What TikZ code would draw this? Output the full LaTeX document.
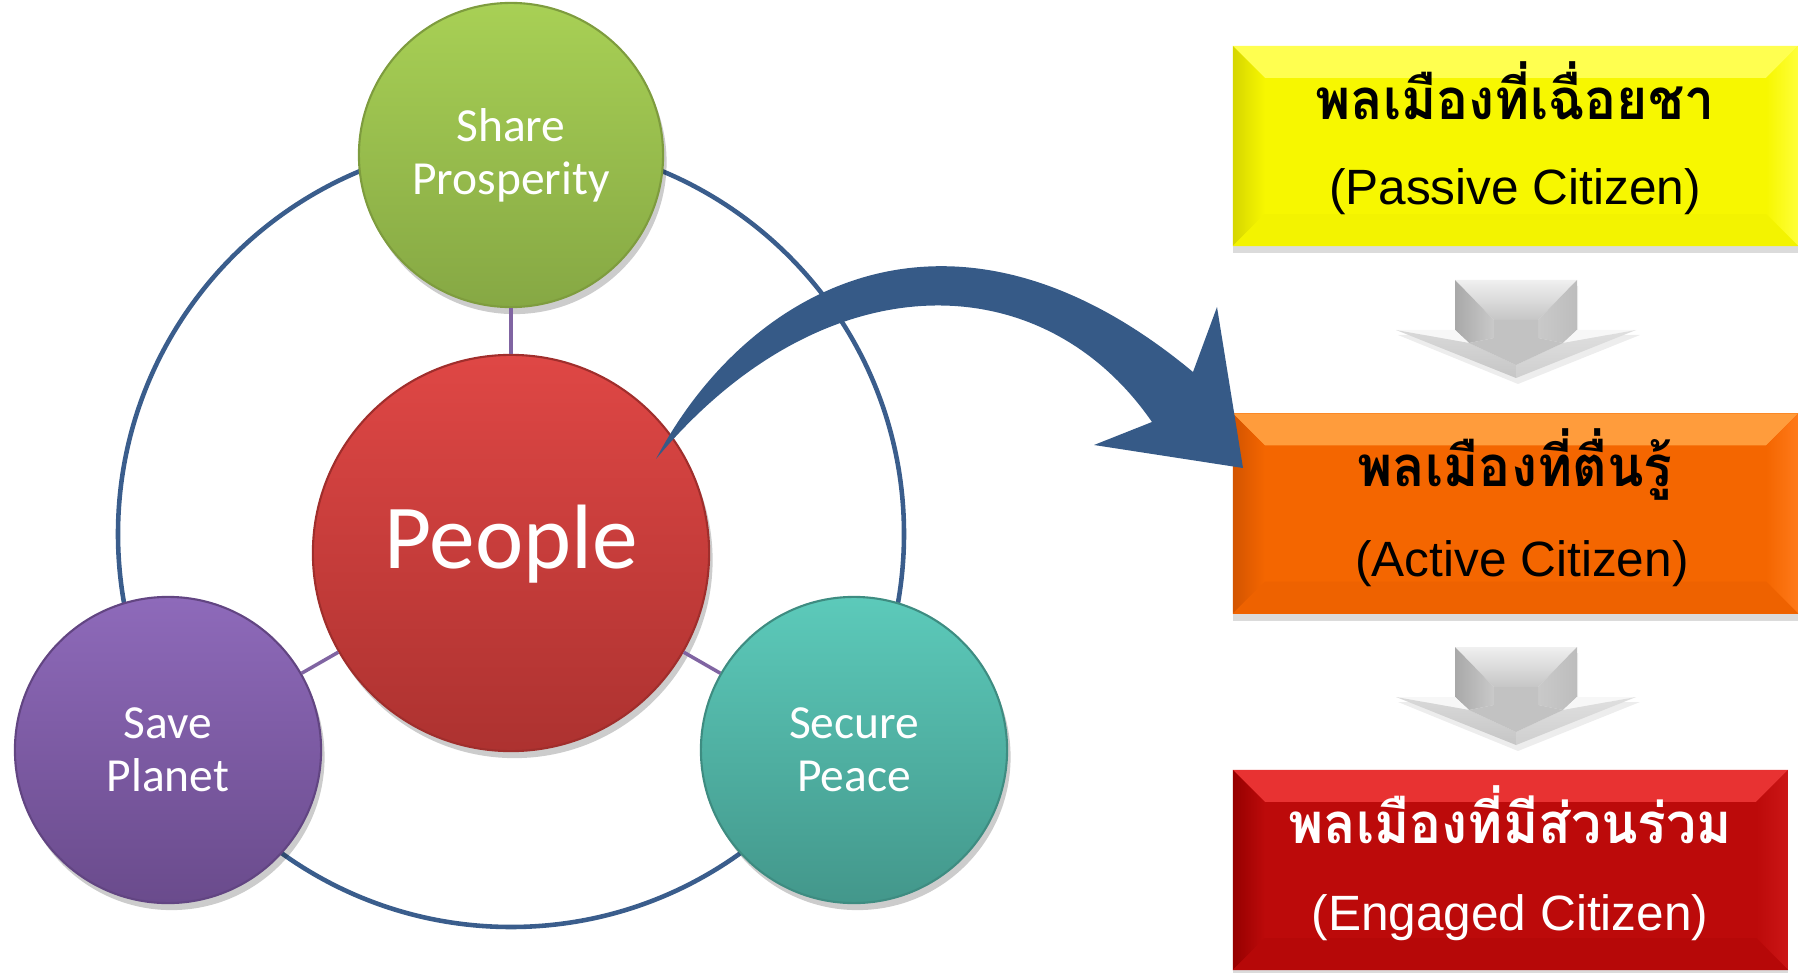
\documentclass[tikz,border=0pt]{standalone}
\usepackage{fontspec}
\setmainfont{Liberation Sans}
\newfontfamily\carl{Carlito}
\newfontfamily\thaifont[Script=Thai, FakeStretch=0.95]{Loma}
\usetikzlibrary{shadows}
\definecolor{ringblue}{HTML}{3A5D8C}
\definecolor{arrowblue}{HTML}{365A87}
\definecolor{linkpurple}{HTML}{8064A2}
\definecolor{greentop}{HTML}{A8D055}
\definecolor{greenbot}{HTML}{86A844}
\definecolor{greenedge}{HTML}{7E9C3E}
\definecolor{redtop}{HTML}{DF4745}
\definecolor{redbot}{HTML}{AD3230}
\definecolor{rededge}{HTML}{A02E2C}
\definecolor{purptop}{HTML}{8E6ABA}
\definecolor{purpbot}{HTML}{6A4B8C}
\definecolor{purpedge}{HTML}{624582}
\definecolor{tealtop}{HTML}{5CCABA}
\definecolor{tealbot}{HTML}{43978B}
\definecolor{tealedge}{HTML}{3E8C81}
\definecolor{yelmain}{HTML}{F7F700}
\definecolor{yeltop}{HTML}{FFFF50}
\definecolor{yelleft}{HTML}{D6D600}
\definecolor{yelright}{HTML}{FFFF3A}
\definecolor{yelbot}{HTML}{F3F300}
\definecolor{ormain}{HTML}{F46600}
\definecolor{ortop}{HTML}{FF9C3C}
\definecolor{orleft}{HTML}{D35400}
\definecolor{orright}{HTML}{FF7A1A}
\definecolor{orbot}{HTML}{EE6200}
\definecolor{rdmain}{HTML}{BC0A0A}
\definecolor{rdtop}{HTML}{E83232}
\definecolor{rdleft}{HTML}{960000}
\definecolor{rdright}{HTML}{CC1616}
\definecolor{rdbot}{HTML}{B60808}
\tikzset{
  ring/.style={draw=ringblue, line width=1.3pt},
  link/.style={draw=linkpurple, line width=1pt},
  ball/.style n args={3}{circle, inner sep=0pt, top color=#1, bottom color=#2, draw=#3, line width=0.6pt,
     text=white, align=center, font=\carl\fontsize{13.5}{15}\selectfont,
     drop shadow={shadow xshift=1pt, shadow yshift=-2pt, opacity=0.2, fill=black}},
  pbox/.style n args={5}{rectangle, inner sep=0pt, fill=#1, minimum height=2cm,
     drop shadow={shadow xshift=0pt, shadow yshift=-2pt, opacity=0.14, fill=black},
     path picture={
       \coordinate (nw) at (path picture bounding box.north west);
       \coordinate (ne) at (path picture bounding box.north east);
       \coordinate (sw) at (path picture bounding box.south west);
       \coordinate (se) at (path picture bounding box.south east);
       \fill[#2] (nw) -- (ne) -- ([shift={(-0.32cm,-0.32cm)}]ne) -- ([shift={(0.32cm,-0.32cm)}]nw) -- cycle;
       \shade[left color=#3, right color=#1] (nw) -- ([shift={(0.32cm,-0.32cm)}]nw) -- ([shift={(0.32cm,0.32cm)}]sw) -- (sw) -- cycle;
       \shade[left color=#1, right color=#4] (ne) -- (se) -- ([shift={(-0.32cm,0.32cm)}]se) -- ([shift={(-0.32cm,-0.32cm)}]ne) -- cycle;
       \fill[#5] (sw) -- ([shift={(0.32cm,0.32cm)}]sw) -- ([shift={(-0.32cm,0.32cm)}]se) -- (se) -- cycle;
     }},
  thaitxt/.style={anchor=base, font=\thaifont\bfseries\fontsize{16}{20}\selectfont},
  engtxt/.style={anchor=base, font=\fontsize{14.1}{17}\selectfont},
  downarrow/.pic={
    \fill[black, opacity=0.07] (-58,6) -- (62,6) -- (62,55) -- (124,55) -- (2,104) -- (-118,55) -- (-58,55) -- cycle;
    \shade[top color=gray!12, bottom color=gray!45] (-61,0) -- (61,0) -- (22,40) -- (-22,40) -- cycle;
    \shade[left color=gray!68, right color=gray!42] (-61,0) -- (-22,40) -- (-22,58) -- (-47,63) -- (-61,50) -- cycle;
    \shade[left color=gray!42, right color=gray!52] (61,0) -- (61,50) -- (47,63) -- (22,58) -- (22,40) -- cycle;
    \fill[gray!6] (-120,50) -- (-61,50) -- (-47,63) -- cycle;
    \fill[gray!6] (120,50) -- (61,50) -- (47,63) -- cycle;
    \shade[top color=gray!30, bottom color=gray!45] (-120,50) -- (-47,63) -- (0,85) -- (0,98) -- cycle;
    \shade[top color=gray!25, bottom color=gray!38] (120,50) -- (47,63) -- (0,85) -- (0,98) -- cycle;
    \fill[gray!48] (-22,40) -- (22,40) -- (22,58) -- (47,63) -- (0,85) -- (-47,63) -- (-22,58) -- cycle;
  }
}
\begin{document}
\begin{tikzpicture}[x=0.01cm, y=-0.01cm]
\useasboundingbox (0,0) rectangle (1805,973);
% outer ring
\draw[ring] (511,534) circle[radius=393];
% circles
\node[ball={redtop}{redbot}{rededge}, minimum size=3.96cm, text depth=9.5pt, font=\carl\fontsize{26}{30}\selectfont] (people) at (511,553) {People};
\node[ball={greentop}{greenbot}{greenedge}, minimum size=3.04cm] (share) at (511,155) {Share\\Prosperity};
\node[ball={purptop}{purpbot}{purpedge}, minimum size=3.06cm] (planet) at (168,750) {Save\\Planet};
\node[ball={tealtop}{tealbot}{tealedge}, minimum size=3.06cm] (peace) at (854,750) {Secure\\Peace};
% links
\draw[link] (people) -- (share);
\draw[link] (people) -- (planet);
\draw[link] (people) -- (peace);
% boxes
\node[pbox={yelmain}{yeltop}{yelleft}{yelright}{yelbot}, minimum width=5.65cm] (passive) at (1515.5,146) {};
\node[pbox={ormain}{ortop}{orleft}{orright}{orbot}, minimum width=5.65cm] (active) at (1515.5,513.5) {};
\node[pbox={rdmain}{rdtop}{rdleft}{rdright}{rdbot}, minimum width=5.55cm] (engaged) at (1510.5,870) {};
\node[thaitxt] (passiveth) at (1515,120) {พลเมืองที่เฉื่อยชา};
\node[engtxt] (passiveen) at (1515,205) {(Passive Citizen)};
\node[thaitxt] (activeth) at (1515,487) {พลเมืองที่ตื่นรู้};
\node[engtxt] (activeen) at (1522,576) {(Active Citizen)};
\node[thaitxt, text=white] (engagedth) at (1510,843) {พลเมืองที่มีส่วนร่วม};
\node[engtxt, text=white] (engageden) at (1510,930) {(Engaged Citizen)};
% gray arrows
\pic at (1516,280) {downarrow};
\pic at (1516,647) {downarrow};
% blue curved arrow
\fill[arrowblue] (656,459) .. controls (745,290) and (950,170) .. (1193,372)
   -- (1217,307) -- (1243,468) -- (1094,445) -- (1152,422)
   .. controls (1040,260) and (820,262) .. (656,459) -- cycle;
\end{tikzpicture}
\end{document}
